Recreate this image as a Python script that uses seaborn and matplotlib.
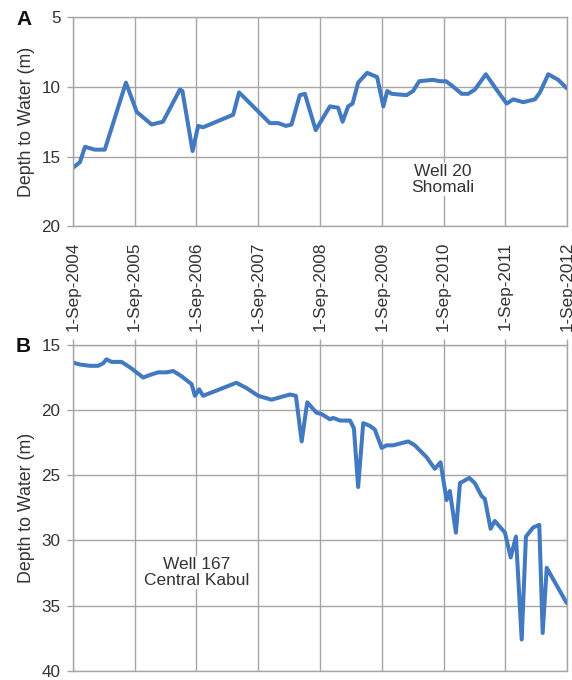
import matplotlib
matplotlib.use("Agg")
import matplotlib.pyplot as plt
import seaborn as sns
import pandas as pd

# ---- Data ----
well20_dates = ["2004-09-01", "2004-10-12", "2004-11-11", "2005-01-08", "2005-03-08",
                "2005-07-11", "2005-09-13", "2005-12-10", "2006-02-15", "2006-05-26",
                "2006-06-10", "2006-08-09", "2006-09-11", "2006-10-10", "2007-04-06",
                "2007-05-11", "2007-11-09", "2007-12-28", "2008-02-12", "2008-03-16",
                "2008-05-04", "2008-06-03", "2008-08-06", "2008-10-29", "2008-12-17",
                "2009-01-12", "2009-02-14", "2009-03-12", "2009-04-14", "2009-06-06",
                "2009-08-04", "2009-09-10", "2009-10-03", "2009-10-29", "2010-01-25",
                "2010-03-05", "2010-04-10", "2010-07-01", "2010-08-10", "2010-09-15",
                "2010-10-19", "2010-12-17", "2011-01-25", "2011-03-05", "2011-05-09",
                "2011-07-11", "2011-09-09", "2011-10-18", "2011-12-16", "2012-02-23",
                "2012-03-24", "2012-05-12", "2012-07-10", "2012-08-29"]
well20_depth = [15.8, 15.4, 14.3, 14.5, 14.5,
                9.7, 11.8, 12.7, 12.5, 10.2,
                10.3, 14.6, 12.8, 12.9, 12.0,
                10.4, 12.6, 12.6, 12.8, 12.7,
                10.6, 10.5, 13.1, 11.4, 11.5,
                12.5, 11.4, 11.2, 9.7, 9.0,
                9.3, 11.4, 10.3, 10.5, 10.6,
                10.3, 9.6, 9.5, 9.6, 9.6,
                9.9, 10.5, 10.5, 10.2, 9.1,
                10.2, 11.2, 10.9, 11.1, 10.9,
                10.4, 9.1, 9.5, 10.1]

well167_dates = ["2004-09-01", "2004-10-12", "2004-12-10", "2005-01-28", "2005-02-27",
                 "2005-03-18", "2005-04-17", "2005-06-15", "2005-08-13", "2005-10-21",
                 "2005-11-30", "2006-01-18", "2006-03-09", "2006-04-17", "2006-06-05",
                 "2006-07-14", "2006-08-03", "2006-08-23", "2006-09-17", "2006-10-10",
                 "2007-01-17", "2007-04-25", "2007-06-23", "2007-09-01", "2007-11-19",
                 "2008-03-07", "2008-04-11", "2008-05-15", "2008-06-17", "2008-08-11",
                 "2008-09-10", "2008-10-29", "2008-11-18", "2008-12-28", "2009-02-25",
                 "2009-03-20", "2009-04-14", "2009-05-14", "2009-06-22", "2009-07-22",
                 "2009-08-31", "2009-09-29", "2009-11-07", "2010-02-04", "2010-03-15",
                 "2010-05-23", "2010-07-11", "2010-08-14", "2010-09-19", "2010-10-08",
                 "2010-11-13", "2010-12-07", "2011-01-31", "2011-03-05", "2011-04-14",
                 "2011-05-03", "2011-06-06", "2011-07-01", "2011-08-30", "2011-10-03",
                 "2011-11-03", "2011-12-07", "2012-01-01", "2012-02-13", "2012-03-20",
                 "2012-04-09", "2012-05-03", "2012-08-29"]
well167_depth = [16.35, 16.5, 16.6, 16.6, 16.4,
                 16.1, 16.3, 16.3, 16.8, 17.5,
                 17.3, 17.1, 17.1, 17.0, 17.4,
                 17.8, 18.0, 18.9, 18.4, 18.9,
                 18.4, 17.9, 18.3, 18.9, 19.2,
                 18.8, 18.9, 22.4, 19.4, 20.2,
                 20.3, 20.7, 20.6, 20.8, 20.8,
                 21.4, 25.9, 21.0, 21.2, 21.5,
                 22.9, 22.7, 22.7, 22.4, 22.7,
                 23.6, 24.5, 24.0, 26.9, 26.2,
                 29.4, 25.6, 25.2, 25.6, 26.6,
                 26.8, 29.1, 28.5, 29.4, 31.3,
                 29.7, 37.6, 29.7, 29.0, 28.8,
                 37.1, 32.1, 34.8]

tick_dates = ["2004-09-01", "2005-09-01", "2006-09-01", "2007-09-01", "2008-09-01",
              "2009-09-01", "2010-09-01", "2011-09-01", "2012-09-01"]
tick_labels = ["1-Sep-2004", "1-Sep-2005", "1-Sep-2006", "1-Sep-2007", "1-Sep-2008",
               "1-Sep-2009", "1-Sep-2010", "1-Sep-2011", "1-Sep-2012"]
a_yticks = [5, 10, 15, 20]
b_yticks = [15, 20, 25, 30, 35, 40]

# ---- Styling ----
sns.set_style("white")
plt.rcParams["font.family"] = ["Liberation Sans", "DejaVu Sans"]

LINE = "#4279c0"
GRID = "#a6a6a6"
TXT = "#333333"

df20 = pd.DataFrame({"date": pd.to_datetime(well20_dates), "depth": well20_depth})
df167 = pd.DataFrame({"date": pd.to_datetime(well167_dates), "depth": well167_depth})
ticks = pd.to_datetime(tick_dates)

fig = plt.figure(figsize=(5.72, 6.8), dpi=100)
axA = fig.add_axes([0.1276, 0.667, 0.864, 0.308])
axB = fig.add_axes([0.1276, 0.0135, 0.864, 0.4792])

sns.lineplot(data=df20, x="date", y="depth", ax=axA, color=LINE, linewidth=2.9)
sns.lineplot(data=df167, x="date", y="depth", ax=axB, color=LINE, linewidth=2.9)

for ax, yt in ((axA, a_yticks), (axB, b_yticks)):
    ax.set_xlim(ticks[0], ticks[-1])
    ax.set_ylim(yt[-1], yt[0])
    ax.set_yticks(yt)
    ax.set_yticklabels([str(v) for v in yt])
    ax.set_xticks(ticks)
    ax.grid(True, color=GRID, linewidth=1.0)
    ax.set_axisbelow(True)
    for s in ax.spines.values():
        s.set_color(GRID)
        s.set_linewidth(1.0)
    ax.tick_params(axis="y", which="both", left=True, length=4, width=1.0,
                   color=GRID, labelsize=12.3, labelcolor=TXT, pad=5)
    ax.set_xlabel("")
    ax.set_ylabel("Depth to Water (m)", fontsize=12.8, color=TXT, labelpad=5)

axA.set_xticklabels(tick_labels, rotation=90, fontsize=12.3, color=TXT)
axA.tick_params(axis="x", bottom=False, length=0, pad=11)

axB.set_xticklabels([])
axB.tick_params(axis="x", bottom=False, top=True, length=4, width=1.0,
                color=GRID, direction="out")
axB.xaxis.set_ticks_position("top")
axB.tick_params(axis="x", labeltop=False, labelbottom=False)

axA.text(0.749, 0.224, "Well 20\nShomali", transform=axA.transAxes, ha="center",
         va="center", fontsize=12.5, color=TXT, linespacing=1.05,
         bbox=dict(facecolor="white", edgecolor="none", pad=1))
axB.text(0.251, 0.302, "Well 167\nCentral Kabul", transform=axB.transAxes, ha="center",
         va="center", fontsize=12.5, color=TXT, linespacing=1.05,
         bbox=dict(facecolor="white", edgecolor="none", pad=1))

fig.text(0.028, 0.972, "A", fontsize=15, fontweight="bold", ha="left", va="center",
         color="#111111")
fig.text(0.028, 0.491, "B", fontsize=15, fontweight="bold", ha="left", va="center",
         color="#111111")

fig.savefig("out.png", dpi=100, facecolor="white")
